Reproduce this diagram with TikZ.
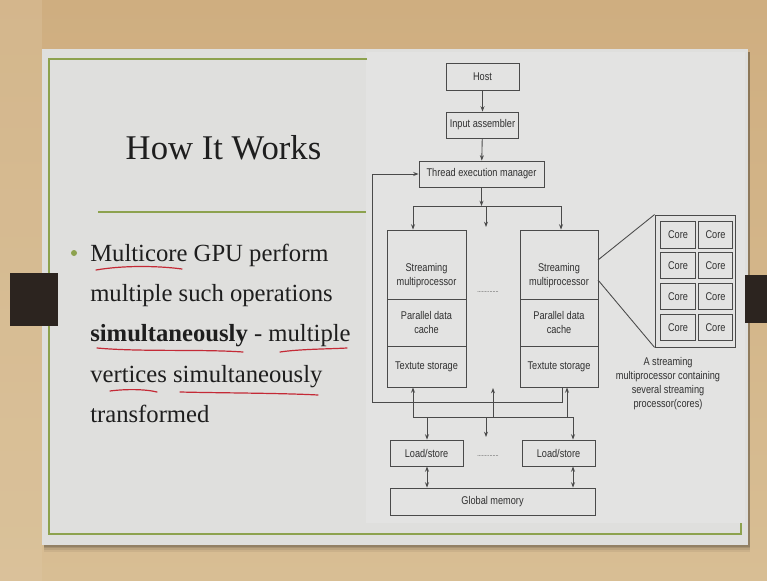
\documentclass[tikz,border=0pt]{standalone}
\usepackage{fontspec}
\setmainfont{Liberation Serif}
\newfontfamily\narrowsans[FakeStretch=0.82]{Liberation Sans}
\usetikzlibrary{arrows.meta}

\definecolor{woodA}{HTML}{CFAE80}
\definecolor{woodB}{HTML}{D8BE94}
\definecolor{slidebg}{HTML}{DFDFDD}
\definecolor{panelbg}{HTML}{E3E3E2}
\definecolor{leaf}{HTML}{8DA24E}
\definecolor{tab}{HTML}{2C241F}
\definecolor{ink}{HTML}{1E1E1E}
\definecolor{wirec}{HTML}{4A4A4A}
\definecolor{boxtext}{HTML}{303030}
\definecolor{pen}{HTML}{C42A36}

\newcommand{\pxu}{0.75pt}

\tikzset{
  wire/.style={draw=wirec, line width=0.65pt},
  arr/.style={wire, -{Stealth[length=4pt,width=3pt]}},
  arrb/.style={wire, {Stealth[length=4pt,width=3pt]}-{Stealth[length=4pt,width=3pt]}},
  box/.style={wire, rectangle, inner sep=0pt, align=center, text=boxtext,
    font=\narrowsans\fontsize{8.4pt}{10.5pt}\selectfont},
  core/.style={box, minimum width=34.5*\pxu, minimum height=26.5*\pxu},
  penline/.style={draw=pen, line width=0.9pt, line cap=round},
  frameline/.style={draw=leaf, line width=1.1pt},
  bodytext/.style={anchor=base west, inner sep=0pt, text=ink,
    font=\fontsize{18.5pt}{24pt}\selectfont},
}

\begin{document}
\begin{tikzpicture}[x=0.75pt, y=-0.75pt]
\useasboundingbox (0,0) rectangle (767,581);

% wooden backdrop
\shade[top color=woodA, bottom color=woodB] (0,0) rectangle (767,581);
\fill[woodB!80!white, opacity=0.3] (0,0) rectangle (42,581);

% slide with a soft drop shadow
\foreach \s/\o in {7/0.06,5/0.08,3/0.10,1.5/0.12}
  \fill[black, opacity=\o] (44,52) rectangle (750,545+\s);
\fill[slidebg] (42,49) rectangle (748,545);
\fill[panelbg] (366,52) rectangle (745,523);

% green frame lines
\draw[frameline] (367,59) -- (49,59) -- (49,534) -- (741,534) -- (741,523);
\draw[frameline] (98,212) -- (366,212);

% side tabs
\fill[tab] (10,273) rectangle (58,326);
\fill[tab] (745,275) rectangle (767,323);

% title and bullet text
\node[anchor=base, inner sep=0pt, text=ink, font=\fontsize{26pt}{30pt}\selectfont]
  (title) at (223.5,160) {How It Works};
\fill[leaf] (74,253) circle (3);
\node[bodytext] (l1) at (90,261) {Multicore GPU perform};
\node[bodytext] (l2) at (90,301) {multiple such operations};
\node[bodytext] (l3) at (90,341) {\bfseries simultaneously\mdseries{} - multiple};
\node[bodytext] (l4) at (90,382) {vertices simultaneously};
\node[bodytext] (l5) at (90,422) {transformed};

% handwritten underlines
\draw[penline] (96,270) .. controls (125,265) and (160,266) .. (182,269);
\draw[penline] (97,348) .. controls (140,352) and (200,349) .. (243,352);
\draw[penline] (280,352) .. controls (300,349) and (330,349) .. (347,348);
\draw[penline] (110,391) .. controls (125,389) and (145,389) .. (157,392);
\draw[penline] (180,392) .. controls (220,393) and (280,393) .. (318,395);

% pipeline boxes
\node[box, minimum width=73*\pxu, minimum height=27*\pxu] (host) at (482.5,76.5) {Host};
\node[box, minimum width=72*\pxu, minimum height=26*\pxu] (ia) at (482.5,125) {Input assembler};
\node[box, minimum width=125*\pxu, minimum height=26*\pxu] (tem) at (481.5,174) {Thread execution manager};

\node[box, minimum width=79*\pxu, minimum height=69*\pxu,
  label={[box, draw=none, yshift=-8.5pt]center:Streaming\\multiprocessor}] (sma) at (426.5,264.5) {};
\node[box, minimum width=79*\pxu, minimum height=47*\pxu] (pdca) at (426.5,322.5) {Parallel data\\cache};
\node[box, minimum width=79*\pxu, minimum height=41*\pxu] (tsa) at (426.5,366.5) {Textute storage};

\node[box, minimum width=78*\pxu, minimum height=69*\pxu,
  label={[box, draw=none, yshift=-8.5pt]center:Streaming\\multiprocessor}] (smb) at (559,264.5) {};
\node[box, minimum width=78*\pxu, minimum height=47*\pxu] (pdcb) at (559,322.5) {Parallel data\\cache};
\node[box, minimum width=78*\pxu, minimum height=41*\pxu] (tsb) at (559,366.5) {Textute storage};

\node[box, draw=none, font=\narrowsans\fontsize{5pt}{6pt}\selectfont] (dotsa) at (488,292) {..............};

\node[box, minimum width=73*\pxu, minimum height=26*\pxu] (lsa) at (426.5,453) {Load/store};
\node[box, minimum width=73*\pxu, minimum height=26*\pxu] (lsb) at (558.5,453) {Load/store};
\node[box, draw=none, font=\narrowsans\fontsize{5pt}{6pt}\selectfont] (dotsb) at (488,456) {..............};
\node[box, minimum width=205*\pxu, minimum height=27*\pxu] (gm) at (492.5,501.5) {Global memory};

% host to thread manager
\draw[arr] (host) -- (ia);
\draw[arr] (ia) -- (tem);

% fan-out to the streaming multiprocessors
\coordinate (splitL) at (413,206);
\coordinate (splitR) at (561,206);
\coordinate (splitM) at (486,206);
\coordinate (splitMend) at (486,227);
\draw[arr] (tem) -- (tem |- splitL);
\draw[wire] (splitL) -- (splitR);
\draw[arr] (splitL) -- (splitL |- sma.north);
\draw[arr] (splitR) -- (splitR |- smb.north);
\draw[arr] (splitM) -- (splitMend);

% feedback path into the thread manager
\coordinate (fbA) at (562,402);
\coordinate (fbB) at (372,402);
\draw[arr] (fbA |- tsb.south) -- (fbA) -- (fbB) |- (tem.west);

% memory bus
\coordinate (busL) at (413,417);
\coordinate (busR) at (573,417);
\coordinate (busUpR) at (567,417);
\coordinate (busUpM) at (493,417);
\coordinate (busUpMend) at (493,388);
\coordinate (busDnL) at (427,417);
\coordinate (busDnM) at (486,417);
\coordinate (busDnMend) at (486,437);
\draw[wire] (busL) -- (busR);
\draw[arr] (busL) -- (busL |- tsa.south);
\draw[arr] (busUpR) -- (busUpR |- tsb.south);
\draw[arr] (busUpM) -- (busUpMend);
\draw[arr] (busDnL) -- (busDnL |- lsa.north);
\draw[arr] (busR) -- (busR |- lsb.north);
\draw[arr] (busDnM) -- (busDnMend);
\draw[arrb] (busDnL |- lsa.south) -- (busDnL |- gm.north);
\draw[arrb] (busR |- lsb.south) -- (busR |- gm.north);

% close-up of one multiprocessor
\node[box, minimum width=80*\pxu, minimum height=132*\pxu] (cores) at (695,281) {};
\foreach \r/\yy in {1/235,2/265.5,3/296.5,4/327.5} {
  \node[core] (core\r a) at (678,\yy) {Core};
  \node[core] (core\r b) at (715.5,\yy) {Core};
}
\coordinate (zoomA) at (598,260);
\coordinate (zoomB) at (598,280);
\draw[wire] (zoomA) -- (cores.north west);
\draw[wire] (zoomB) -- (cores.south west);

\node[box, draw=none, anchor=north] (caption) at (668,357)
  {A streaming\\multiprocessor containing\\several streaming\\processor(cores)};

\end{tikzpicture}
\end{document}
